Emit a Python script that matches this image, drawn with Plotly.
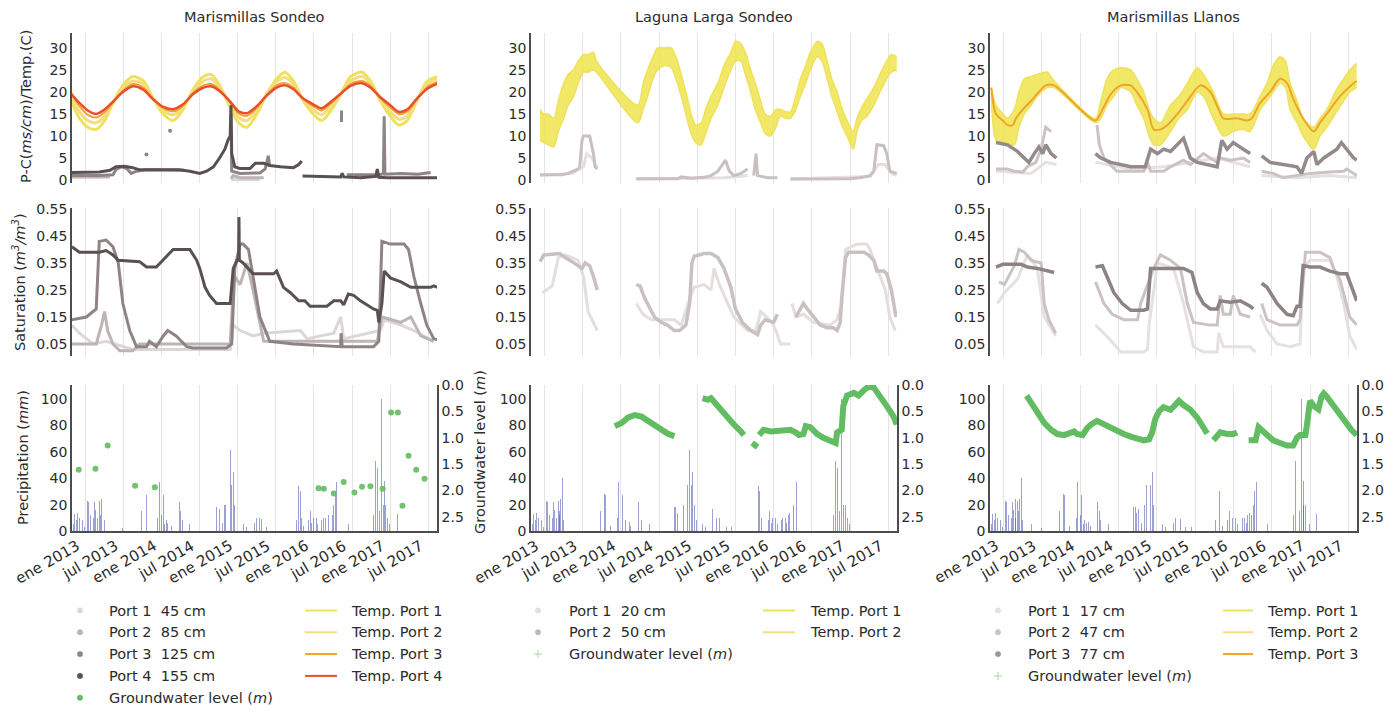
import math
from datetime import datetime, timedelta
import plotly.graph_objects as go

W, H = 1396, 709

# ---------------------------------------------------------------------------
# Data: (decimal year, value); (None, None) breaks a line where the logger had a gap
# ---------------------------------------------------------------------------
STATIONS = ["Marismillas Sondeo", "Laguna Larga Sondeo", "Marismillas Llanos"]
TICK_YEARS = [2013.0, 2013.5, 2014.0, 2014.5, 2015.0, 2015.5, 2016.0, 2016.5, 2017.0, 2017.5]
TICK_TEXT = ["ene 2013", "jul 2013", "ene 2014", "jul 2014", "ene 2015",
             "jul 2015", "ene 2016", "jul 2016", "ene 2017", "jul 2017"]

# Daily precipitation (mm), same weather station for the three sites
PRECIP = [
    (2012.82, 15), (2012.84, 5), (2012.86, 13), (2012.88, 8), (2012.89, 14), (2012.92, 10),
    (2012.96, 8), (2012.99, 3), (2013.02, 23), (2013.04, 22), (2013.06, 12), (2013.10, 10),
    (2013.12, 22), (2013.13, 16), (2013.15, 24), (2013.16, 10), (2013.18, 23), (2013.19, 15),
    (2013.20, 12), (2013.21, 24), (2013.23, 40), (2013.25, 8), (2013.36, 5), (2013.49, 2),
    (2013.73, 15), (2013.78, 28), (2013.80, 27), (2013.86, 4), (2013.95, 10), (2013.97, 37),
    (2014.00, 12), (2014.02, 27), (2014.04, 5), (2014.06, 8), (2014.08, 6), (2014.11, 7),
    (2014.13, 4), (2014.23, 22), (2014.25, 15), (2014.27, 8), (2014.37, 5), (2014.70, 18),
    (2014.72, 18), (2014.74, 14), (2014.76, 17), (2014.80, 6), (2014.82, 20), (2014.84, 20),
    (2014.87, 35), (2014.90, 61), (2014.92, 35), (2014.94, 45), (2014.96, 20), (2014.99, 8),
    (2015.07, 5), (2015.11, 3), (2015.20, 17), (2015.22, 6), (2015.25, 10), (2015.29, 10),
    (2015.31, 9), (2015.38, 3), (2015.45, 3), (2015.77, 8), (2015.80, 34), (2015.82, 30),
    (2015.84, 10), (2015.86, 4), (2015.93, 8), (2015.95, 15), (2015.97, 6), (2015.99, 10),
    (2016.03, 10), (2016.05, 5), (2016.10, 8), (2016.12, 10), (2016.15, 10), (2016.17, 6),
    (2016.19, 12), (2016.21, 14), (2016.24, 12), (2016.26, 20), (2016.28, 30), (2016.30, 37),
    (2016.45, 5), (2016.78, 12), (2016.81, 53), (2016.83, 48), (2016.86, 15), (2016.89, 100),
    (2016.91, 20), (2016.92, 38), (2016.94, 20), (2016.96, 10), (2016.99, 5), (2017.09, 13),
]

# --- Marismillas Sondeo ----------------------------------------------------
MS_T_YEARS = [2012.81, 2012.92, 2013.03, 2013.14, 2013.25, 2013.36, 2013.49, 2013.62, 2013.76,
              2013.89, 2014.02, 2014.15, 2014.28, 2014.41, 2014.55, 2014.65, 2014.76, 2014.90,
              2015.01, 2015.12, 2015.25, 2015.38, 2015.51, 2015.62, 2015.73, 2015.86, 2015.99,
              2016.10, 2016.21, 2016.35, 2016.48, 2016.63, 2016.74, 2016.87, 2017.00, 2017.11,
              2017.22, 2017.35, 2017.49, 2017.62]
MS_TEMP1 = [18, 14, 12, 11.5, 13.5, 17.5, 21.5, 23.5, 22.5, 18.5, 15, 13.5, 16, 20.5, 23.5, 24,
            21.5, 16.5, 13, 12, 15, 19.5, 23, 24.5, 22.5, 18, 15, 13.5, 15.5, 19.5, 23.5, 24.5,
            22.5, 18, 14.5, 12.5, 13.5, 18, 22.5, 23.5]
MS_TEMP2 = [19, 15.5, 13.5, 13, 14.5, 17.5, 21, 22.5, 21.8, 18.5, 15.8, 14.8, 16.5, 20, 22.5, 23,
            21, 17, 14.2, 13.5, 16, 19.5, 22.3, 23.3, 21.8, 18.2, 16, 14.8, 16.5, 19.5, 22.5, 23.5,
            22, 18.3, 15.5, 13.8, 14.5, 18.2, 21.8, 23]
MS_TEMP3 = [19.8, 16.8, 14.8, 14.2, 15.4, 17.6, 20.3, 21.8, 21, 18.4, 16.3, 15.6, 16.9, 19.7,
            21.5, 21.8, 20.5, 17.6, 15.1, 14.6, 16.4, 19.3, 21.5, 22, 21, 18.4, 16.8, 15.8, 17.2,
            19.6, 21.8, 22.5, 21.4, 18.6, 16.5, 15, 15.5, 18.3, 21.2, 22.3]
MS_TEMP4 = [19.6, 17.5, 15.8, 15.0, 16.0, 17.8, 20.0, 21.3, 20.5, 18.3, 16.6, 16.1, 17.2, 19.5,
            21.0, 21.3, 20.2, 17.8, 15.6, 15.2, 16.8, 19.2, 21.0, 21.5, 20.6, 18.5, 17.2, 16.3,
            17.6, 19.6, 21.4, 22.0, 21.0, 18.8, 17.0, 15.5, 16.0, 18.5, 20.8, 21.9]

MS_PC1 = [(2014.91, 0.1), (2015.29, 0.1)]
MS_PC2 = [(2012.81, 0.7), (2013.32, 0.7), (None, None), (2014.91, 0.3), (2014.94, 1.0),
          (2015.03, 0.5), (2015.34, 0.5)]
MS_PC3 = [(2012.81, 1.0), (2013.18, 1.0), (2013.36, 1.2), (2013.40, 2.4), (2013.47, 3.0),
          (2013.54, 2.6), (2013.60, 1.5), (2013.67, 2.0), (2013.80, 2.3), (2014.30, 2.2),
          (None, None), (2014.91, 15.0), (2014.92, 2.0), (2015.03, 1.5), (2015.29, 1.6),
          (2015.36, 2.5), (2015.40, 5.5), (2015.42, 3.0), (None, None), (2016.36, 13.2),
          (2016.362, 15.8), (None, None), (2016.43, 1.2), (2016.70, 1.3), (2016.87, 1.2),
          (2016.91, 1.5), (2016.92, 14.5), (2016.93, 1.3), (2017.14, 1.5), (2017.36, 1.3),
          (2017.53, 1.7)]
MS_PC3_DOTS = [(2013.80, 5.8), (2014.11, 11.2)]
MS_PC4 = [(2012.81, 1.7), (2013.01, 1.8), (2013.18, 1.8), (2013.32, 2.2), (2013.40, 3.0),
          (2013.51, 3.1), (2013.62, 2.8), (2013.71, 2.3), (2013.97, 2.3), (2014.23, 2.3),
          (2014.37, 2.0), (2014.50, 1.5), (2014.59, 2.0), (2014.68, 3.0), (2014.76, 5.0),
          (2014.83, 7.0), (2014.87, 9.0), (2014.90, 10.0), (2014.91, 17.0), (2014.92, 6.0),
          (2014.96, 3.0), (2015.03, 2.6), (2015.16, 2.6), (2015.23, 3.8), (2015.34, 3.8),
          (2015.42, 3.3), (2015.56, 3.0), (2015.73, 2.8), (2015.80, 3.5), (2015.84, 4.3),
          (None, None), (2015.85, 0.9), (2016.08, 0.8), (2016.35, 0.7), (2016.37, 1.5),
          (2016.39, 0.7), (2016.61, 0.5), (2016.81, 0.8), (2016.83, 2.5), (2016.85, 0.6),
          (2016.96, 0.5), (2017.22, 0.5), (2017.44, 0.6), (2017.62, 0.5)]

MS_SAT1 = [(2012.82, 0.12), (2012.92, 0.09), (2013.10, 0.05), (2013.27, 0.06), (2013.62, 0.03),
           (2014.06, 0.03), (2014.90, 0.03), (2014.94, 0.12), (2015.03, 0.10), (2015.20, 0.08),
           (2015.34, 0.09), (2015.82, 0.10), (2015.91, 0.07), (2016.26, 0.09), (2016.35, 0.15),
           (2016.39, 0.07), (2016.87, 0.10), (2016.92, 0.14), (2017.14, 0.12), (2017.31, 0.10),
           (2017.57, 0.06)]
MS_SAT2 = [(2012.82, 0.05), (2013.14, 0.05), (2013.21, 0.12), (2013.25, 0.17), (2013.29, 0.10),
           (2013.36, 0.05), (2013.45, 0.025), (2013.62, 0.025), (2013.71, 0.05), (2014.90, 0.05),
           (2014.94, 0.25), (2014.96, 0.30), (2015.03, 0.27), (2015.12, 0.35), (2015.20, 0.25),
           (2015.34, 0.06), (2016.83, 0.06), (2016.89, 0.15), (2017.14, 0.13), (2017.27, 0.15),
           (2017.40, 0.08), (2017.57, 0.06)]
MS_SAT3 = [(2012.82, 0.14), (2013.01, 0.15), (2013.14, 0.18), (2013.18, 0.43), (2013.27, 0.435),
           (2013.36, 0.41), (2013.43, 0.35), (2013.49, 0.20), (2013.58, 0.10), (2013.67, 0.04),
           (2013.80, 0.04), (2013.84, 0.06), (2013.93, 0.04), (2014.02, 0.08), (2014.08, 0.10),
           (2014.19, 0.08), (2014.33, 0.04), (2014.41, 0.035), (2014.85, 0.035), (2014.92, 0.05),
           (2014.96, 0.33), (2015.03, 0.42), (2015.07, 0.42), (2015.14, 0.40), (2015.20, 0.30),
           (2015.29, 0.15), (2015.42, 0.06), (2015.73, 0.05), (2016.35, 0.04), (2016.355, 0.09),
           (2016.37, 0.04), (2016.78, 0.04), (2016.85, 0.06), (2016.89, 0.43), (2017.00, 0.42),
           (2017.18, 0.42), (2017.24, 0.40), (2017.31, 0.30), (2017.40, 0.20), (2017.48, 0.12),
           (2017.57, 0.07), (2017.62, 0.065)]
MS_SAT4 = [(2012.82, 0.41), (2012.92, 0.39), (2013.18, 0.39), (2013.27, 0.396), (2013.36, 0.38),
           (2013.43, 0.36), (2013.71, 0.355), (2013.80, 0.335), (2013.93, 0.335), (2014.02, 0.36),
           (2014.15, 0.40), (2014.37, 0.40), (2014.46, 0.36), (2014.50, 0.33), (2014.57, 0.26),
           (2014.63, 0.23), (2014.72, 0.20), (2014.90, 0.20), (2014.94, 0.33), (2014.99, 0.36),
           (2015.01, 0.36), (2015.015, 0.52), (2015.02, 0.36), (2015.07, 0.35), (2015.14, 0.33),
           (2015.20, 0.31), (2015.47, 0.31), (2015.51, 0.32), (2015.60, 0.26), (2015.69, 0.24),
           (2015.80, 0.21), (2015.88, 0.21), (2015.95, 0.19), (2016.17, 0.19), (2016.26, 0.21),
           (2016.35, 0.21), (2016.39, 0.195), (2016.45, 0.235), (2016.52, 0.23), (2016.61, 0.21),
           (2016.78, 0.18), (2016.83, 0.175), (2016.85, 0.13), (2016.89, 0.20), (2016.92, 0.32),
           (2017.00, 0.295), (2017.14, 0.28), (2017.27, 0.26), (2017.53, 0.26), (2017.57, 0.265),
           (2017.62, 0.26)]

MS_GW = [(2012.91, 1.61), (2013.13, 1.59), (2013.29, 1.15), (2013.65, 1.91), (2013.91, 1.94),
         (2016.06, 1.96), (2016.13, 1.97), (2016.26, 2.06), (2016.39, 1.84), (2016.53, 2.04),
         (2016.63, 1.93), (2016.74, 1.92), (2016.90, 1.97), (2017.01, 0.52), (2017.10, 0.52),
         (2017.16, 2.29), (2017.24, 1.34), (2017.34, 1.61), (2017.45, 1.78)]

# --- Laguna Larga Sondeo ---------------------------------------------------
LL_T_YEARS = [2012.94, 2012.99, 2013.05, 2013.12, 2013.18, 2013.25, 2013.31, 2013.38, 2013.44,
              2013.51, 2013.57, 2013.64, 2013.68, 2014.22, 2014.29, 2014.35, 2014.42, 2014.48,
              2014.57, 2014.66, 2014.72, 2014.79, 2014.85, 2014.92, 2014.98, 2015.05, 2015.11,
              2015.18, 2015.27, 2015.35, 2015.44, 2015.50, 2015.57, 2015.63, 2015.70, 2015.76,
              2015.83, 2015.89, 2015.96, 2016.03, 2016.09, 2016.16, 2016.22, 2016.29, 2016.35,
              2016.42, 2016.48, 2016.57, 2016.63, 2016.70, 2016.76, 2016.83, 2016.89, 2016.96,
              2017.04, 2017.09, 2017.15, 2017.22, 2017.31, 2017.39, 2017.48, 2017.54, 2017.61]
LL_TEMP1 = [16, 15, 15, 14, 18, 22, 24, 25, 27, 28.5, 28.5, 29, 27, 17, 22, 25, 28, 30, 30, 30,
            28, 24, 20, 15, 12.5, 13, 16, 19, 22, 26, 29, 31.5, 31, 29, 25, 22, 18, 15, 14.5, 16,
            16, 15.5, 15.5, 19, 23, 26, 29, 31.5, 31, 27, 23, 20, 16.5, 13.5, 11, 14, 16.5, 18.5,
            21, 24, 27, 28.5, 28]
LL_TEMP2 = [9, 8.5, 8, 7.5, 11, 14, 17, 19, 22, 24.5, 24.5, 25, 24.5, 13, 16, 19, 23, 25, 26,
            25.5, 23, 19, 15, 10.5, 8.5, 8, 10.5, 14, 17, 21, 25, 27, 27, 24, 20, 16, 13, 10.5, 10,
            12, 14.5, 14, 14, 16, 19, 22, 25, 28, 27, 23, 19, 15.5, 12.5, 10, 7, 11, 13.5, 14.5,
            17, 20, 23, 24.5, 25]

LL_PC1 = [(2012.94, 1.0), (2013.36, 1.5), (2013.51, 3.0), (2013.55, 6.0), (2013.62, 5.0),
          (2013.69, 2.8), (None, None), (2014.20, 0.2), (2015.35, 0.5), (2015.66, 1.0),
          (None, None), (2016.22, 0.2), (2017.26, 0.8), (2017.37, 3.5), (2017.46, 3.5),
          (2017.54, 1.5), (2017.61, 1.0)]
LL_PC2 = [(2012.94, 1.2), (2013.23, 1.2), (2013.31, 1.5), (2013.40, 2.2), (2013.44, 2.5),
          (2013.46, 3.0), (2013.49, 9.0), (2013.51, 10.0), (2013.59, 10.0), (2013.64, 6.0),
          (2013.66, 3.0), (2013.69, 2.5), (None, None), (2014.20, 0.3), (2014.75, 0.3),
          (2014.79, 0.7), (2014.92, 0.4), (2015.09, 0.6), (2015.18, 1.0), (2015.27, 2.0),
          (2015.37, 4.5), (2015.42, 2.0), (2015.48, 1.0), (2015.57, 1.5), (2015.66, 2.5),
          (None, None), (2015.74, 1.0), (2015.77, 6.0), (2015.79, 1.0), (2015.92, 0.5),
          (2016.05, 0.5), (None, None), (2016.22, 0.2), (2017.00, 0.3), (2017.13, 0.5),
          (2017.26, 1.0), (2017.31, 2.0), (2017.35, 8.0), (2017.44, 7.8), (2017.48, 6.0),
          (2017.52, 2.0), (2017.61, 1.5)]

LL_SAT1 = [(2012.97, 0.24), (2013.10, 0.265), (2013.18, 0.37), (2013.27, 0.38), (2013.44, 0.36),
           (2013.51, 0.30), (2013.57, 0.17), (2013.64, 0.13), (2013.69, 0.10), (None, None),
           (2014.20, 0.20), (2014.29, 0.16), (2014.40, 0.14), (2014.70, 0.14), (2014.79, 0.12),
           (2014.88, 0.20), (2014.96, 0.26), (2015.09, 0.27), (2015.18, 0.25), (2015.22, 0.33),
           (2015.29, 0.27), (2015.40, 0.20), (2015.48, 0.15), (2015.66, 0.10), (2015.77, 0.10),
           (2015.83, 0.17), (2015.98, 0.13), (2016.03, 0.10), (2016.09, 0.05), (2016.22, 0.05),
           (None, None), (2016.24, 0.20), (2016.29, 0.15), (2016.39, 0.16), (2016.52, 0.13),
           (2016.74, 0.12), (2016.83, 0.14), (2016.89, 0.20), (2016.94, 0.40), (2017.09, 0.42),
           (2017.22, 0.42), (2017.26, 0.40), (2017.35, 0.33), (2017.46, 0.25), (2017.52, 0.15),
           (2017.59, 0.10)]
LL_SAT2 = [(2012.94, 0.355), (2012.99, 0.38), (2013.20, 0.385), (2013.27, 0.37), (2013.36, 0.355),
           (2013.42, 0.345), (2013.49, 0.33), (2013.53, 0.35), (2013.59, 0.34), (2013.64, 0.30),
           (2013.69, 0.25), (None, None), (2014.20, 0.27), (2014.25, 0.265), (2014.31, 0.22),
           (2014.38, 0.18), (2014.44, 0.15), (2014.53, 0.13), (2014.61, 0.12), (2014.70, 0.10),
           (2014.77, 0.10), (2014.81, 0.11), (2014.85, 0.12), (2014.90, 0.20), (2014.93, 0.35),
           (2014.96, 0.375), (2015.09, 0.385), (2015.18, 0.385), (2015.27, 0.37), (2015.35, 0.33),
           (2015.44, 0.26), (2015.50, 0.18), (2015.59, 0.13), (2015.70, 0.10), (2015.79, 0.085),
           (2015.83, 0.12), (2015.89, 0.14), (2016.00, 0.13), (2016.05, 0.16), (None, None),
           (2016.29, 0.15), (2016.39, 0.20), (2016.44, 0.18), (2016.52, 0.15), (2016.61, 0.12),
           (2016.70, 0.11), (2016.78, 0.11), (2016.83, 0.10), (2016.87, 0.13), (2016.89, 0.22),
           (2016.94, 0.37), (2016.98, 0.39), (2017.18, 0.39), (2017.24, 0.38), (2017.31, 0.36),
           (2017.35, 0.32), (2017.44, 0.32), (2017.48, 0.31), (2017.54, 0.25), (2017.60, 0.15)]

LL_GW = [(2013.92, 0.78), (2014.01, 0.72), (2014.09, 0.62), (2014.18, 0.57), (2014.27, 0.60),
         (2014.35, 0.68), (2014.44, 0.76), (2014.53, 0.85), (2014.61, 0.92), (2014.70, 0.97),
         (None, None), (2015.07, 0.25), (2015.14, 0.28), (2015.18, 0.25), (2015.22, 0.32),
         (2015.31, 0.45), (2015.40, 0.60), (2015.48, 0.75), (2015.57, 0.88), (2015.61, 0.95),
         (None, None), (2015.72, 1.10), (2015.79, 1.18), (None, None), (2015.81, 0.95),
         (2015.87, 0.85), (2015.96, 0.88), (2016.05, 0.87), (2016.13, 0.85), (2016.22, 0.85),
         (2016.29, 0.90), (2016.33, 0.95), (2016.39, 0.93), (2016.42, 0.78), (2016.48, 0.80),
         (2016.57, 0.93), (2016.65, 1.00), (2016.74, 1.05), (2016.81, 1.10), (2016.83, 0.90),
         (2016.89, 0.85), (2016.91, 0.40), (2016.96, 0.20), (2017.05, 0.15), (2017.11, 0.20),
         (2017.18, 0.10), (2017.24, 0.03), (2017.31, 0.05), (2017.39, 0.20), (2017.48, 0.40),
         (2017.57, 0.60), (2017.61, 0.75)]

# --- Marismillas Llanos ----------------------------------------------------
ML_T_YEARS = [2012.84, 2012.90, 2012.99, 2013.05, 2013.14, 2013.20, 2013.27, 2013.36, 2013.44,
              2013.57, 2013.66, 2014.20, 2014.27, 2014.35, 2014.44, 2014.53, 2014.66, 2014.74,
              2014.83, 2014.90, 2014.96, 2015.05, 2015.18, 2015.29, 2015.40, 2015.53, 2015.61,
              2015.74, 2015.87, 2016.00, 2016.13, 2016.22, 2016.35, 2016.44, 2016.52, 2016.61,
              2016.68, 2016.74, 2016.83, 2016.91, 2017.05, 2017.13, 2017.22, 2017.33, 2017.44,
              2017.52, 2017.61]
ML_TEMP1 = [21, 17, 15, 14, 16, 20, 23, 23.5, 24, 24.5, 22.5, 14, 18, 23, 25, 25.5, 25, 23, 20,
            16, 14, 13, 17, 19, 22, 25.5, 24, 20, 15, 15, 15, 15, 19, 22, 26, 28, 27, 22, 18, 14,
            12, 14, 16, 20, 23, 25, 26.5]
ML_TEMP2 = [20, 9, 8, 8, 8, 12, 15, 17, 19, 21, 21, 13, 14, 17, 19, 21, 20, 17, 14, 10, 8, 8,
            11, 14, 16, 20, 19, 14, 10, 11, 11.5, 11, 16, 18, 20, 22, 21, 16, 13, 10, 7, 10, 12,
            15, 18, 20, 21]
ML_T3_YEARS = [2012.84, 2012.90, 2012.99, 2013.05, 2013.12, 2013.16, 2013.25, 2013.36, 2013.46,
               2013.55, 2013.66, 2014.20, 2014.29, 2014.40, 2014.53, 2014.66, 2014.74, 2014.88,
               2014.96, 2015.05, 2015.14, 2015.27, 2015.40, 2015.57, 2015.70, 2015.81, 2015.87,
               2016.05, 2016.18, 2016.24, 2016.35, 2016.48, 2016.61, 2016.70, 2016.78, 2016.91,
               2017.05, 2017.13, 2017.26, 2017.39, 2017.57, 2017.61]
ML_TEMP3 = [21, 15, 13.5, 12.5, 12.5, 14, 16, 18, 20, 21.5, 21.5, 13.5, 16, 19.5, 21.5, 21.5,
            20, 16, 11.5, 11.5, 12.5, 15, 18, 21.5, 20, 16, 14, 14, 13.5, 14, 17.5, 20, 23, 22,
            18.5, 14, 11, 13, 16, 19, 22, 22.5]

ML_PC1 = [(2012.90, 2.0), (2013.36, 1.5), (2013.55, 4.0), (2013.69, 3.5), (None, None),
          (2014.20, 4.0), (2014.66, 2.5), (2015.09, 3.0), (2015.79, 5.0), (2016.22, 3.0),
          (None, None), (2016.37, 1.0), (2016.83, 0.5), (2017.26, 1.0), (2017.61, 0.5)]
ML_PC2 = [(2012.90, 2.5), (2013.05, 2.5), (2013.14, 2.0), (2013.25, 1.8), (2013.31, 3.0),
          (2013.42, 4.0), (2013.49, 7.0), (2013.55, 12.0), (2013.62, 11.0), (None, None),
          (2014.22, 12.5), (2014.25, 8.0), (2014.31, 5.0), (2014.40, 3.5), (2014.48, 2.0),
          (2014.83, 2.0), (2014.88, 4.0), (2014.92, 2.0), (2015.09, 2.0), (2015.18, 3.0),
          (2015.35, 4.5), (2015.44, 3.5), (2015.61, 6.0), (2015.79, 4.0), (2015.83, 5.0),
          (2015.96, 4.5), (2016.13, 5.0), (2016.22, 4.0), (None, None), (2016.37, 2.0),
          (2016.52, 1.5), (2016.65, 0.5), (2016.83, 1.0), (2017.00, 1.5), (2017.26, 1.8),
          (2017.44, 2.0), (2017.48, 2.5), (2017.61, 1.0)]
ML_PC3 = [(2012.90, 8.5), (2013.05, 8.0), (2013.18, 6.5), (2013.27, 5.0), (2013.33, 4.0),
          (2013.40, 6.0), (2013.46, 7.5), (2013.51, 6.0), (2013.55, 8.0), (2013.62, 6.0),
          (2013.69, 5.0), (None, None), (2014.20, 6.0), (2014.27, 5.0), (2014.40, 4.0),
          (2014.66, 3.0), (2014.85, 3.0), (2014.88, 5.0), (2014.92, 7.0), (2015.01, 6.0),
          (2015.09, 7.0), (2015.18, 6.5), (2015.27, 8.0), (2015.35, 9.5), (2015.44, 5.0),
          (2015.53, 4.0), (2015.79, 3.0), (2015.85, 9.0), (2015.92, 7.0), (2016.00, 8.5),
          (2016.13, 7.0), (2016.22, 6.0), (None, None), (2016.37, 5.5), (2016.48, 4.0),
          (2016.65, 3.5), (2016.83, 3.0), (2016.89, 1.5), (2016.96, 5.0), (2017.05, 6.5),
          (2017.09, 3.5), (2017.18, 5.0), (2017.26, 6.0), (2017.35, 7.0), (2017.41, 8.5),
          (2017.48, 7.0), (2017.57, 5.0), (2017.61, 4.5)]

ML_SAT1 = [(2012.92, 0.20), (2013.01, 0.24), (2013.18, 0.29), (2013.31, 0.38), (2013.44, 0.33),
           (2013.53, 0.15), (2013.64, 0.10), (2013.68, 0.08), (None, None), (2014.20, 0.12),
           (2014.31, 0.09), (2014.44, 0.05), (2014.53, 0.02), (2014.83, 0.02), (2014.88, 0.03),
           (2014.90, 0.12), (2015.01, 0.35), (2015.22, 0.33), (2015.35, 0.20), (2015.48, 0.04),
           (2015.61, 0.02), (2015.79, 0.02), (2015.81, 0.09), (2015.87, 0.04), (2016.22, 0.04),
           (2016.29, 0.02), (None, None), (2016.35, 0.16), (2016.44, 0.10), (2016.57, 0.05),
           (2016.74, 0.04), (2016.87, 0.05), (2016.91, 0.33), (2017.00, 0.36), (2017.26, 0.36),
           (2017.35, 0.30), (2017.44, 0.20), (2017.52, 0.08), (2017.61, 0.03)]
ML_SAT2 = [(2012.94, 0.28), (2013.01, 0.27), (2013.14, 0.34), (2013.20, 0.40), (2013.27, 0.39),
           (2013.36, 0.36), (2013.49, 0.35), (2013.53, 0.20), (2013.59, 0.14), (2013.68, 0.09),
           (None, None), (2014.20, 0.28), (2014.31, 0.20), (2014.42, 0.16), (2014.57, 0.14),
           (2014.75, 0.14), (2014.79, 0.20), (2014.96, 0.33), (2015.05, 0.38), (2015.18, 0.36),
           (2015.31, 0.33), (2015.40, 0.20), (2015.48, 0.13), (2015.70, 0.12), (2015.79, 0.12),
           (2015.83, 0.23), (2015.87, 0.16), (2015.96, 0.16), (2016.00, 0.23), (2016.09, 0.16),
           (2016.22, 0.15), (None, None), (2016.37, 0.20), (2016.44, 0.14), (2016.61, 0.12),
           (2016.83, 0.12), (2016.87, 0.14), (2016.94, 0.39), (2017.13, 0.39), (2017.26, 0.37),
           (2017.31, 0.33), (2017.39, 0.29), (2017.52, 0.15), (2017.61, 0.12)]
ML_SAT3 = [(2012.90, 0.335), (2012.99, 0.345), (2013.23, 0.345), (2013.31, 0.335), (2013.44, 0.33),
           (2013.57, 0.32), (2013.66, 0.315), (None, None), (2014.20, 0.335), (2014.29, 0.34),
           (2014.35, 0.30), (2014.44, 0.24), (2014.55, 0.20), (2014.66, 0.175), (2014.83, 0.175),
           (2014.88, 0.18), (2014.92, 0.33), (2015.09, 0.33), (2015.35, 0.33), (2015.46, 0.315),
           (2015.53, 0.24), (2015.61, 0.20), (2015.70, 0.18), (2015.79, 0.18), (2015.83, 0.21),
           (2015.96, 0.205), (2016.09, 0.21), (2016.22, 0.19), (2016.26, 0.18), (None, None),
           (2016.37, 0.275), (2016.44, 0.26), (2016.57, 0.20), (2016.70, 0.16), (2016.78, 0.155),
           (2016.83, 0.19), (2016.87, 0.19), (2016.91, 0.34), (2017.00, 0.335), (2017.13, 0.335),
           (2017.26, 0.32), (2017.39, 0.31), (2017.48, 0.31), (2017.54, 0.26), (2017.61, 0.21)]

ML_GW = [(2013.30, 0.20), (2013.36, 0.33), (2013.44, 0.55), (2013.53, 0.72), (2013.62, 0.85),
         (2013.70, 0.93), (2013.79, 0.95), (2013.88, 0.90), (2013.92, 0.88), (2013.96, 0.93),
         (2014.03, 0.95), (2014.09, 0.82), (2014.14, 0.75), (2014.22, 0.68), (2014.31, 0.75),
         (2014.40, 0.80), (2014.48, 0.85), (2014.57, 0.93), (2014.66, 0.98), (2014.75, 1.03),
         (2014.83, 1.05), (2014.90, 1.03), (2014.94, 0.90), (2014.98, 0.65), (2015.03, 0.50),
         (2015.09, 0.42), (2015.18, 0.47), (2015.24, 0.38), (2015.29, 0.30), (2015.35, 0.38),
         (2015.44, 0.47), (2015.53, 0.62), (2015.59, 0.75), (2015.66, 0.92), (None, None),
         (2015.74, 1.05), (2015.83, 0.90), (2015.92, 0.93), (2016.00, 0.93), (2016.05, 0.90),
         (None, None), (2016.20, 1.05), (2016.29, 1.05), (2016.33, 0.80), (2016.37, 0.85),
         (2016.44, 0.97), (2016.52, 1.05), (2016.61, 1.10), (2016.70, 1.15), (2016.78, 1.15),
         (2016.83, 1.00), (2016.87, 0.95), (2016.94, 0.95), (2016.96, 0.75), (2016.98, 0.54),
         (2017.00, 0.30), (2017.05, 0.40), (2017.11, 0.46), (2017.15, 0.22), (2017.18, 0.16),
         (2017.22, 0.22), (2017.31, 0.41), (2017.39, 0.58), (2017.48, 0.73), (2017.54, 0.85),
         (2017.61, 0.95)]

# Legend entries per station
LEGEND_PORTS = [
    ["Port 1\u00a0 45 cm", "Port 2\u00a0 85 cm", "Port 3\u00a0 125 cm", "Port 4\u00a0 155 cm"],
    ["Port 1\u00a0 20 cm", "Port 2\u00a0 50 cm"],
    ["Port 1\u00a0 17 cm", "Port 2\u00a0 47 cm", "Port 3\u00a0 77 cm"],
]
LEGEND_TEMPS = [
    ["Temp. Port 1", "Temp. Port 2", "Temp. Port 3", "Temp. Port 4"],
    ["Temp. Port 1", "Temp. Port 2"],
    ["Temp. Port 1", "Temp. Port 2", "Temp. Port 3"],
]
GW_LABEL = "Groundwater level (<i>m</i>)"


# ---------------------------------------------------------------------------
# Helpers
# ---------------------------------------------------------------------------
def to_date(y):
    yr = int(math.floor(y))
    start = datetime(yr, 1, 1)
    ndays = (datetime(yr + 1, 1, 1) - start).days
    return start + timedelta(days=(y - yr) * ndays)


def split(pairs):
    xs, ys = [], []
    for t, v in pairs:
        if t is None:
            xs.append(None)
            ys.append(None)
        else:
            xs.append(to_date(t))
            ys.append(v)
    return xs, ys


FONT = "DejaVu Sans"
TXT = "#2b2b2b"
SPINE = "#4d4d4d"
GRID = "#e4e4e4"

COL_PX = [(72, 437), (531, 897), (990, 1357)]
ROW_PX = [(33, 182.5), (208, 356), (385, 531)]
X_RANGE = [datetime(2012, 10, 28), datetime(2017, 8, 13)]

fig = go.Figure()


def axn(r, c):
    return r * 3 + c + 1


def refs(r, c, secondary=False):
    n = axn(r, c)
    xr = "x" if n == 1 else f"x{n}"
    if secondary:
        yr = f"y{10 + c}"
    else:
        yr = "y" if n == 1 else f"y{n}"
    return xr, yr


def add_line(pairs, r, c, color, width, secondary=False):
    xs, ys = split(pairs)
    xr, yr = refs(r, c, secondary)
    fig.add_trace(go.Scatter(x=xs, y=ys, mode="lines", xaxis=xr, yaxis=yr,
                             line=dict(color=color, width=width),
                             showlegend=False, hoverinfo="skip"))


def add_series(years, values, r, c, color, width, fill=None, fillcolor=None):
    xr, yr = refs(r, c)
    fig.add_trace(go.Scatter(x=[to_date(t) for t in years], y=values, mode="lines",
                             xaxis=xr, yaxis=yr, fill=fill, fillcolor=fillcolor,
                             line=dict(color=color, width=width, shape="spline", smoothing=0.8),
                             showlegend=False, hoverinfo="skip"))


# Port colours (light -> dark) and temperature colours
P1, P2, P3, P4 = "#ddd6d6", "#bdb4b4", "#8e8484", "#595050"
T1, T2, T3, T4 = "#eee25a", "#f3dc82", "#f0a32c", "#e8502c"
GREEN = "#62bd62"
YELLOW_FILL = "rgba(240,228,78,0.85)"

# ---------------- precipitation bars (bottom row, all columns) ----------------
for c in range(3):
    xr, yr = refs(2, c)
    xs, ys = split(PRECIP)
    fig.add_trace(go.Bar(x=xs, y=ys, xaxis=xr, yaxis=yr, width=4 * 86400000,
                         marker=dict(color="rgba(72,84,175,0.55)", line=dict(width=0)),
                         showlegend=False, hoverinfo="skip"))

# ---------------- Marismillas Sondeo ----------------
add_series(MS_T_YEARS, MS_TEMP1, 0, 0, T1, 3)
add_series(MS_T_YEARS, MS_TEMP2, 0, 0, T2, 3)
add_series(MS_T_YEARS, MS_TEMP3, 0, 0, T3, 2)
add_series(MS_T_YEARS, MS_TEMP4, 0, 0, T4, 2.5)
add_line(MS_PC1, 0, 0, P1, 3)
add_line(MS_PC2, 0, 0, P2, 3)
add_line(MS_PC3, 0, 0, P3, 3)
add_line(MS_PC4, 0, 0, P4, 3)
xs, ys = split(MS_PC3_DOTS)
fig.add_trace(go.Scatter(x=xs, y=ys, mode="markers", xaxis="x", yaxis="y",
                         marker=dict(color=P3, size=4), showlegend=False, hoverinfo="skip"))
add_line(MS_SAT1, 1, 0, P1, 3)
add_line(MS_SAT2, 1, 0, P2, 3)
add_line(MS_SAT3, 1, 0, P3, 3)
add_line(MS_SAT4, 1, 0, P4, 3)
xs, ys = split(MS_GW)
fig.add_trace(go.Scatter(x=xs, y=ys, mode="markers", xaxis="x7", yaxis="y10",
                         marker=dict(color=GREEN, size=6, opacity=0.9),
                         showlegend=False, hoverinfo="skip"))

# ---------------- Laguna Larga Sondeo ----------------
add_series(LL_T_YEARS, LL_TEMP1, 0, 1, T1, 1.5)
add_series(LL_T_YEARS, LL_TEMP2, 0, 1, "#f0e060", 1.5, fill="tonexty", fillcolor=YELLOW_FILL)
add_line(LL_PC1, 0, 1, "#e4dede", 3)
add_line(LL_PC2, 0, 1, "#c9c0c0", 3)
add_line(LL_SAT1, 1, 1, "#e4dede", 3)
add_line(LL_SAT2, 1, 1, "#c9c0c0", 3.5)
add_line(LL_GW, 2, 1, GREEN, 6, secondary=True)

# ---------------- Marismillas Llanos ----------------
add_series(ML_T_YEARS, ML_TEMP1, 0, 2, T1, 1.5)
add_series(ML_T_YEARS, ML_TEMP2, 0, 2, "#f0e060", 1.5, fill="tonexty", fillcolor=YELLOW_FILL)
add_series(ML_T3_YEARS, ML_TEMP3, 0, 2, "#eea52a", 2)
add_line(ML_PC1, 0, 2, "#e6e0e0", 3)
add_line(ML_PC2, 0, 2, "#cbc3c3", 3)
add_line(ML_PC3, 0, 2, "#958a8a", 3.5)
add_line(ML_SAT1, 1, 2, "#e6e0e0", 3)
add_line(ML_SAT2, 1, 2, "#cbc3c3", 3)
add_line(ML_SAT3, 1, 2, "#8e8383", 3.5)
add_line(ML_GW, 2, 2, GREEN, 6, secondary=True)

# ---------------- axes ----------------
axes = {}
tick_dates = [to_date(t) for t in TICK_YEARS]
for r in range(3):
    for c in range(3):
        n = axn(r, c)
        xname = "xaxis" if n == 1 else f"xaxis{n}"
        yname = "yaxis" if n == 1 else f"yaxis{n}"
        x0, x1 = COL_PX[c]
        y0, y1 = ROW_PX[r]
        axes[xname] = dict(
            domain=[x0 / W, x1 / W], anchor="y" if n == 1 else f"y{n}", type="date",
            range=X_RANGE, tickmode="array", tickvals=tick_dates, ticktext=TICK_TEXT,
            showticklabels=False, showgrid=True, gridcolor=GRID,
            gridwidth=1, zeroline=False, showline=(r == 2), linecolor=SPINE, linewidth=1.5,
            ticks="", automargin=False,
        )
        if r == 0:
            yr, tv = [-0.57, 33.4], [0, 5, 10, 15, 20, 25, 30]
            tt = [str(v) for v in tv]
        elif r == 1:
            yr, tv = [0.0056, 0.5537], [0.05, 0.15, 0.25, 0.35, 0.45, 0.55]
            tt = ["0.05", "0.15", "0.25", "0.35", "0.45", "0.55"]
        else:
            yr, tv = [0, 110.6], [0, 20, 40, 60, 80, 100]
            tt = [str(v) for v in tv]
        axes[yname] = dict(
            domain=[1 - y1 / H, 1 - y0 / H], anchor="x" if n == 1 else f"x{n}", range=yr,
            tickmode="array", tickvals=tv, ticktext=tt, showgrid=False, zeroline=False,
            showline=True, linecolor=SPINE, linewidth=1.5, ticks="", automargin=False,
            tickfont=dict(family=FONT, size=14, color=TXT),
        )
for c in range(3):
    n = 7 + c
    axes[f"yaxis{10 + c}"] = dict(
        overlaying=f"y{n}", anchor=f"x{n}", side="right", range=[2.77, 0],
        tickmode="array", tickvals=[0, 0.5, 1.0, 1.5, 2.0, 2.5],
        ticktext=["0.0", "0.5", "1.0", "1.5", "2.0", "2.5"], showgrid=False, zeroline=False,
        showline=True, linecolor=SPINE, linewidth=1.5, ticks="", automargin=False,
        tickfont=dict(family=FONT, size=14, color=TXT),
    )

# ---------------- titles ----------------
annotations = []
shapes = []
LEG_FONT = dict(family=FONT, size=14.5, color=TXT)
for c, name in enumerate(STATIONS):
    x0, x1 = COL_PX[c]
    annotations.append(dict(text=name, x=(x0 + x1) / 2 / W, y=1 - 17 / H, xref="paper",
                            yref="paper", showarrow=False, xanchor="center", yanchor="middle",
                            font=LEG_FONT))
AXIS_TITLES = [
    ("P-C(<i>ms/cm</i>)/Temp.(C)", 26, 107),
    ("Saturation (<i>m<sup>3</sup>/m<sup>3</sup></i>)", 19, 282),
    ("Precipitation (<i>mm</i>)", 23, 458),
    ("Groundwater level (<i>m</i>)", 480, 452),
]
for text, px, py in AXIS_TITLES:
    annotations.append(dict(text=text, x=px / W, y=1 - py / H, xref="paper", yref="paper",
                            showarrow=False, textangle=-90, xanchor="center", yanchor="middle",
                            font=LEG_FONT))

# Rotated date labels under the bottom row; the upper-right end of each label sits at its tick
for c in range(3):
    xr = f"x{7 + c}"
    for d, label in zip(tick_dates, TICK_TEXT):
        annotations.append(dict(text=label, x=d, y=1 - 535 / H, xref=xr, yref="paper",
                                showarrow=False, textangle=-30, xanchor="right", yanchor="top",
                                xshift=-1, borderpad=0,
                                font=dict(family=FONT, size=15, color=TXT)))

# ---------------- legends (two columns under each station) ----------------
PORT_MARK = [[P1, P2, P3, P4], ["#e4dede", "#c0b8b8"], ["#e6e0e0", "#cbc3c3", "#a09595"]]
TEMP_LINE = [[T1, T2, T3, T4], [T1, T2], [T1, T2, T3]]
MARK_X = [80, 538, 998]
PORT_TEXT_X = [107, 567, 1026]
LINE_X = [(305, 337), (763, 795), (1223, 1253)]
TEMP_TEXT_X = [349, 808, 1265]
ROW0, ROW_STEP = 610.5, 21.8


def px_shape(kind, x0, y0, x1, y1, **kw):
    shapes.append(dict(type=kind, xref="paper", yref="paper", x0=x0 / W, x1=x1 / W,
                       y0=1 - y0 / H, y1=1 - y1 / H, **kw))


def legend_text(text, x, y):
    annotations.append(dict(text=text, x=x / W, y=1 - y / H, xref="paper", yref="paper",
                            showarrow=False, xanchor="left", yanchor="middle", font=LEG_FONT))


for c in range(3):
    rows = LEGEND_PORTS[c] + [GW_LABEL]
    for i, label in enumerate(rows):
        y = ROW0 + i * ROW_STEP
        mx = MARK_X[c]
        if i < len(LEGEND_PORTS[c]):
            col = PORT_MARK[c][i]
            px_shape("circle", mx - 2.7, y - 2.7, mx + 2.7, y + 2.7, fillcolor=col,
                     line=dict(color=col, width=0.5))
        elif c == 0:
            px_shape("circle", mx - 2.7, y - 2.7, mx + 2.7, y + 2.7, fillcolor=GREEN,
                     line=dict(color=GREEN, width=0.5))
        else:
            gcol = "#c2e2c2"
            px_shape("line", mx - 4, y, mx + 4, y, line=dict(color=gcol, width=1.5))
            px_shape("line", mx, y - 4, mx, y + 4, line=dict(color=gcol, width=1.5))
        legend_text(label, PORT_TEXT_X[c], y)
    for i, label in enumerate(LEGEND_TEMPS[c]):
        y = ROW0 + i * ROW_STEP
        lx0, lx1 = LINE_X[c]
        px_shape("line", lx0, y, lx1, y, line=dict(color=TEMP_LINE[c][i], width=2))
        legend_text(label, TEMP_TEXT_X[c], y)

fig.update_layout(
    width=W, height=H, margin=dict(l=0, r=0, t=0, b=0, autoexpand=False),
    paper_bgcolor="white", plot_bgcolor="white",
    font=dict(family=FONT, size=14, color=TXT),
    showlegend=False, bargap=0, annotations=annotations, shapes=shapes,
    **axes,
)

fig.write_html("out.html")
